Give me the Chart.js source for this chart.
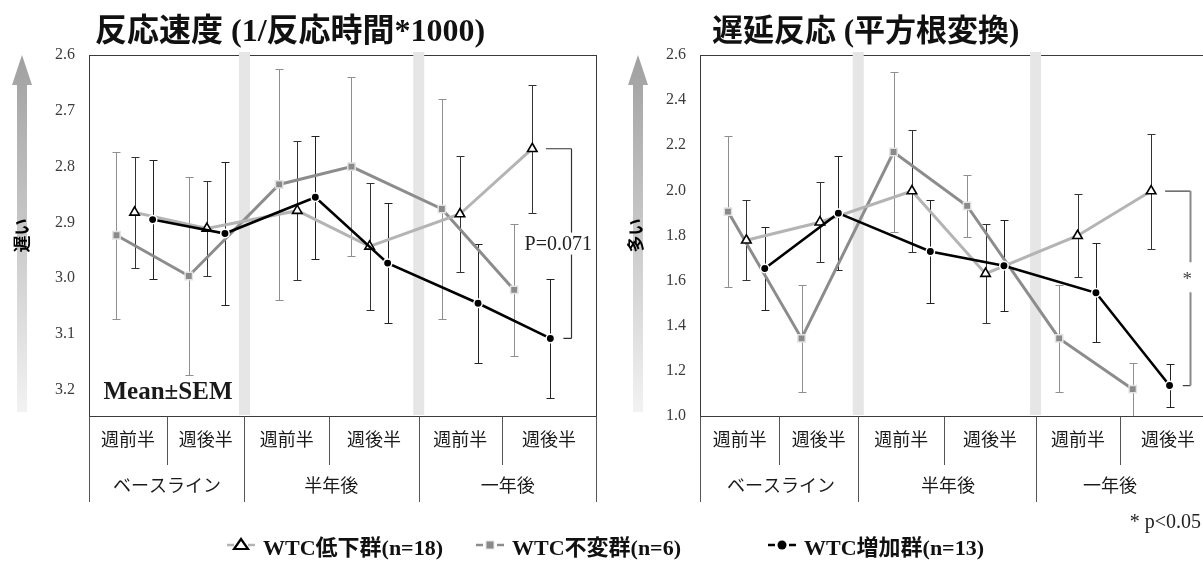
<!DOCTYPE html>
<html><head><meta charset="utf-8">
<script src="https://cdn.jsdelivr.net/npm/chart.js@4.4.1/dist/chart.umd.min.js"></script>
<style>
html,body{margin:0;padding:0;background:#fff;overflow:hidden;width:1203px;height:567px;}
#wrap{position:relative;width:1203px;height:567px;overflow:hidden;background:#fff;}
#boxA{position:absolute;left:0;top:0;width:603px;height:567px;}
#boxB{position:absolute;left:603px;top:0;width:620px;height:567px;}
.lg{position:absolute;top:531px;height:28px;display:flex;align-items:center;white-space:nowrap;
 font-family:"Liberation Serif","Noto Sans CJK JP",serif;font-weight:bold;font-size:22px;color:#111;}
.lg svg{margin-right:8px;}
</style></head><body>
<div id="wrap">
<div id="boxA"><canvas id="cA" width="603" height="567"></canvas></div>
<div id="boxB"><canvas id="cB" width="620" height="567"></canvas></div>
<div id="legend"></div>
</div>
<script>
// ---------- data ----------
const subLabels = ['週前半','週後半','週前半','週後半','週前半','週後半'];
const groupLabels = ['ベースライン','半年後','一年後'];
const seriesNames = ['WTC低下群(n=18)','WTC不変群(n=6)','WTC増加群(n=13)'];

const speedTitle = '反応速度 (1/反応時間*1000)';
const speedAxisLabel = '遅い';
const speedTicks = [2.6, 2.7, 2.8, 2.9, 3.0, 3.1, 3.2];
const speedLow     = [2.882, 2.911, 2.879, 2.943, 2.885, 2.768];
const speedLowSem  = [0.099, 0.085, 0.124, 0.114, 0.104, 0.115];
const speedSame    = [2.923, 2.996, 2.832, 2.800, 2.876, 3.021];
const speedSameSem = [0.150, 0.177, 0.207, 0.160, 0.198, 0.119];
const speedUp      = [2.895, 2.920, 2.855, 2.973, 3.045, 3.108];
const speedUpSem   = [0.107, 0.128, 0.110, 0.107, 0.107, 0.107];
const speedNote = 'P=0.071';
const meanLabel = 'Mean±SEM';

const delayTitle = '遅延反応 (平方根変換)';
const delayAxisLabel = '多い';
const delayTicks = [1.0, 1.2, 1.4, 1.6, 1.8, 2.0, 2.2, 2.4, 2.6];
const delayLow     = [1.779, 1.859, 1.997, 1.631, 1.799, 1.997];
const delayLowSem  = [0.177, 0.176, 0.272, 0.220, 0.183, 0.255];
const delaySame    = [1.906, 1.344, 2.170, 1.931, 1.344, 1.119];
const delaySameSem = [0.333, 0.237, 0.354, 0.138, 0.237, 0.117];
const delayUp      = [1.654, 1.899, 1.729, 1.666, 1.546, 1.135];
const delayUpSem   = [0.182, 0.253, 0.229, 0.202, 0.219, 0.097];
const delayNote = '*';
const sigNote = '* p<0.05';

// ---------- styles / layout ----------
const FONT = '"Liberation Serif","Noto Sans CJK JP",serif';
const X_MIN = -0.63, X_MAX = 6.38;
const seriesOffset = [0, -0.25, 0.25];
const catPos = subLabels.map((_, i) => i + Math.floor(i / 2) * 0.25);
const bounds = [X_MIN, 0.45, 1.52, 2.69, 3.93, 5.08, X_MAX];
const bandPos = [1.52, 3.93];
const lineColors = ['#b4b4b4', '#8c8c8c', '#000000'];
const lineWidths = [3, 3, 2.6];
const pointStyles = ['triangle', 'rect', 'circle'];
const pointRadii = [5.5, 5.2, 4.2];
const pointFills = ['#ffffff', '#8a8a8a', '#000000'];
const pointBorders = ['#000000', '#e3e3e3', '#ffffff'];
const barColors = ['#333333', '#8f8f8f', '#222222'];
const drawOrder = [1, 2, 0];
const TOP = 55, BOTTOM = 416;

function makeDatasets(series) {
  return series.map((s, k) => ({
    label: seriesNames[k],
    data: s[0].map((v, i) => ({ x: catPos[i] + seriesOffset[k], y: v })),
    sem: s[1],
    barColor: barColors[k],
    borderColor: lineColors[k],
    borderWidth: lineWidths[k],
    pointStyle: pointStyles[k],
    pointRadius: pointRadii[k],
    pointBackgroundColor: pointFills[k],
    pointBorderColor: pointBorders[k],
    pointBorderWidth: k === 0 ? 1.6 : 1.5,
    order: drawOrder[k],
    tension: 0, fill: false
  }));
}

const decoPlugin = {
  id: 'deco',
  beforeDraw(chart, args, o) {
    const ctx = chart.ctx;
    const cx = o.arrowX;
    const g = ctx.createLinearGradient(0, TOP, 0, BOTTOM);
    g.addColorStop(0, '#a0a0a0'); g.addColorStop(1, '#f3f3f3');
    ctx.save();
    ctx.fillStyle = g;
    ctx.beginPath();
    ctx.moveTo(cx, TOP);
    ctx.lineTo(cx + 10, TOP + 30);
    ctx.lineTo(cx + 5, TOP + 30);
    ctx.lineTo(cx + 5, BOTTOM - 4);
    ctx.lineTo(cx - 5, BOTTOM - 4);
    ctx.lineTo(cx - 5, TOP + 30);
    ctx.lineTo(cx - 10, TOP + 30);
    ctx.closePath();
    ctx.fill();
    ctx.fillStyle = '#111';
    ctx.font = 'bold ' + o.titleSize + 'px ' + FONT;
    ctx.textBaseline = 'middle';
    ctx.textAlign = 'left';
    ctx.fillText(o.title, o.titleX, 33);
    ctx.restore();
  },
  beforeDatasetsDraw(chart, args, o) {
    const ctx = chart.ctx, a = chart.chartArea, xs = chart.scales.x, ys = chart.scales.y;
    ctx.save();
    ctx.strokeStyle = '#3a3a3a'; ctx.lineWidth = 1;
    ctx.strokeRect(Math.round(a.left) + 0.5, Math.round(a.top) + 0.5, Math.round(a.right - a.left), Math.round(a.bottom - a.top));
    ctx.fillStyle = '#e6e6e6';
    bandPos.forEach(b => {
      const px = xs.getPixelForValue(b);
      ctx.fillRect(px - 5.5, a.top - 3, 11, a.bottom - a.top + 2);
    });
    ctx.beginPath(); ctx.rect(a.left, a.top, a.right - a.left, a.bottom - a.top); ctx.clip();
    ctx.lineWidth = 1;
    chart.data.datasets.forEach(ds => {
      ctx.strokeStyle = ds.barColor;
      ds.data.forEach((p, i) => {
        const x = Math.round(xs.getPixelForValue(p.x)) + 0.5;
        const y1 = Math.round(ys.getPixelForValue(p.y - ds.sem[i])) + 0.5;
        const y2 = Math.round(ys.getPixelForValue(p.y + ds.sem[i])) + 0.5;
        ctx.beginPath();
        ctx.moveTo(x, y1); ctx.lineTo(x, y2);
        ctx.moveTo(x - 4, y1); ctx.lineTo(x + 4, y1);
        ctx.moveTo(x - 4, y2); ctx.lineTo(x + 4, y2);
        ctx.stroke();
      });
    });
    ctx.restore();
  },
  afterDatasetsDraw(chart, args, o) {
    const ctx = chart.ctx, xs = chart.scales.x, ys = chart.scales.y;
    const br = o.bracket;
    const yTop = ys.getPixelForValue(br.from[5]);
    const yBot = ys.getPixelForValue(br.to[5]);
    const X = Math.round(xs.getPixelForValue(6.03)) + 0.5;
    ctx.save();
    ctx.strokeStyle = br.hColor; ctx.lineWidth = 1.2;
    ctx.beginPath();
    ctx.moveTo(xs.getPixelForValue(5.69), yTop); ctx.lineTo(X, yTop);
    ctx.moveTo(xs.getPixelForValue(5.93), yBot); ctx.lineTo(X, yBot);
    ctx.stroke();
    ctx.strokeStyle = br.vColor; ctx.lineWidth = br.vWidth;
    ctx.beginPath(); ctx.moveTo(X, yTop); ctx.lineTo(X, yBot); ctx.stroke();
    const mid = (yTop + yBot) / 2 + br.dy;
    ctx.font = br.font;
    ctx.textAlign = 'center'; ctx.textBaseline = 'middle';
    const tx = xs.getPixelForValue(br.textX);
    const w = ctx.measureText(br.text).width;
    ctx.fillStyle = '#fff';
    ctx.fillRect(tx - w / 2 - 2, mid - br.gap / 2, w + 4, br.gap);
    ctx.fillStyle = br.textColor;
    ctx.fillText(br.text, tx, mid + br.textDy);
    ctx.restore();
  },
  afterDraw(chart, args, o) {
    const ctx = chart.ctx, xs = chart.scales.x, a = chart.chartArea;
    const axisY = Math.round(a.bottom) + 0.5;
    ctx.save();
    ctx.strokeStyle = '#555'; ctx.lineWidth = 1;
    ctx.beginPath();
    bounds.forEach((b, j) => {
      const px = Math.round(xs.getPixelForValue(b)) + 0.5;
      const isGroup = (j % 2 === 0);
      ctx.moveTo(px, axisY);
      ctx.lineTo(px, isGroup ? 502 : 465);
    });
    ctx.stroke();
    ctx.fillStyle = '#1a1a1a';
    ctx.font = '18px ' + FONT;
    ctx.textAlign = 'center'; ctx.textBaseline = 'middle';
    subLabels.forEach((t, i) => {
      ctx.fillText(t, xs.getPixelForValue((bounds[i] + bounds[i + 1]) / 2), 441);
    });
    groupLabels.forEach((t, g) => {
      ctx.fillText(t, xs.getPixelForValue(o.groupCenters[g]), 487);
    });
    (o.extraTexts || []).forEach(e => {
      ctx.font = e.font; ctx.textAlign = e.align; ctx.fillStyle = e.color;
      ctx.fillText(e.text, e.x, e.y);
    });
    ctx.restore();
  }
};

function buildChart(id, cfg) {
  return new Chart(document.getElementById(id), {
    type: 'line',
    data: { datasets: makeDatasets(cfg.series) },
    options: {
      responsive: false, animation: false, events: [],
      layout: { padding: { top: TOP, bottom: 567 - BOTTOM, left: 0, right: cfg.padRight } },
      plugins: {
        legend: { display: false }, tooltip: { enabled: false },
        deco: cfg.deco
      },
      scales: {
        x: { type: 'linear', min: X_MIN, max: X_MAX, display: false },
        y: {
          min: cfg.min, max: cfg.max, reverse: cfg.reverse,
          afterBuildTicks: s => { s.ticks = cfg.ticks.map(v => ({ value: v })); },
          afterFit: s => { s.width = cfg.axisWidth; },
          grid: { display: false, drawTicks: false },
          border: { display: false },
          ticks: { font: { family: FONT, size: 16 }, color: '#3c3c3c', padding: 14,
                   callback: v => Number(v).toFixed(1) },
          title: { display: true, text: cfg.axisLabel, color: '#000',
                   font: { family: FONT, size: 17, weight: 'bold' },
                   padding: { top: cfg.titlePad, bottom: 0 } }
        }
      }
    },
    plugins: [decoPlugin]
  });
}

buildChart('cA', {
  series: [[speedLow, speedLowSem], [speedSame, speedSameSem], [speedUp, speedUpSem]],
  min: 2.6, max: 3.247, reverse: true, ticks: speedTicks, axisLabel: speedAxisLabel,
  axisWidth: 89, padRight: 2, titlePad: 13,
  deco: {
    arrowX: 22, title: speedTitle, titleX: 95, titleSize: 32,
    groupCenters: [0.45, 2.72, 5.16],
    bracket: { from: speedLow, to: speedUp, text: speedNote, textX: 5.86, font: '20px ' + FONT,
               textColor: '#222', hColor: '#333', vColor: '#333', vWidth: 1.2, gap: 22, dy: 0, textDy: 1 },
    extraTexts: [{ text: meanLabel, x: 168, y: 393, font: 'bold 25px ' + FONT, align: 'center', color: '#1a1a1a' }]
  }
});

buildChart('cB', {
  series: [[delayLow, delayLowSem], [delaySame, delaySameSem], [delayUp, delayUpSem]],
  min: 1.0, max: 2.6, reverse: false, ticks: delayTicks, axisLabel: delayAxisLabel,
  axisWidth: 97, padRight: 0, titlePad: 24,
  deco: {
    arrowX: 35, title: delayTitle, titleX: 109, titleSize: 31,
    groupCenters: [0.47, 2.74, 4.94],
    bracket: { from: delayLow, to: delayUp, text: delayNote, textX: 5.99, font: '19px ' + FONT,
               textColor: '#444', hColor: '#444', vColor: '#888', vWidth: 2, gap: 30, dy: -11, textDy: 3 },
    extraTexts: [{ text: sigNote, x: 598, y: 523, font: '20px ' + FONT, align: 'right', color: '#222' }]
  }
});

// ---------- legend (HTML) ----------
const legendLeft = [227, 476, 768];
const legend = document.getElementById('legend');
function markerSvg(k) {
  const c = lineColors[k];
  let m = '';
  if (k === 0) m = '<polygon points="14,3 21,13 7,13" fill="#fff" stroke="#000" stroke-width="2.2"/>';
  if (k === 1) m = '<rect x="10" y="5" width="8" height="8" fill="#8a8a8a" stroke="#e3e3e3" stroke-width="1"/>';
  if (k === 2) m = '<circle cx="14" cy="9" r="4.5" fill="#000"/>';
  return '<svg width="28" height="18" viewBox="0 0 28 18">' +
    '<line x1="0" y1="9" x2="7" y2="9" stroke="' + c + '" stroke-width="2.5"/>' +
    '<line x1="21" y1="9" x2="28" y2="9" stroke="' + c + '" stroke-width="2.5"/>' + m + '</svg>';
}
seriesNames.forEach((name, k) => {
  const d = document.createElement('div');
  d.className = 'lg';
  d.style.left = legendLeft[k] + 'px';
  d.innerHTML = markerSvg(k) + '<span>' + name + '</span>';
  legend.appendChild(d);
});
</script>
</body></html>
